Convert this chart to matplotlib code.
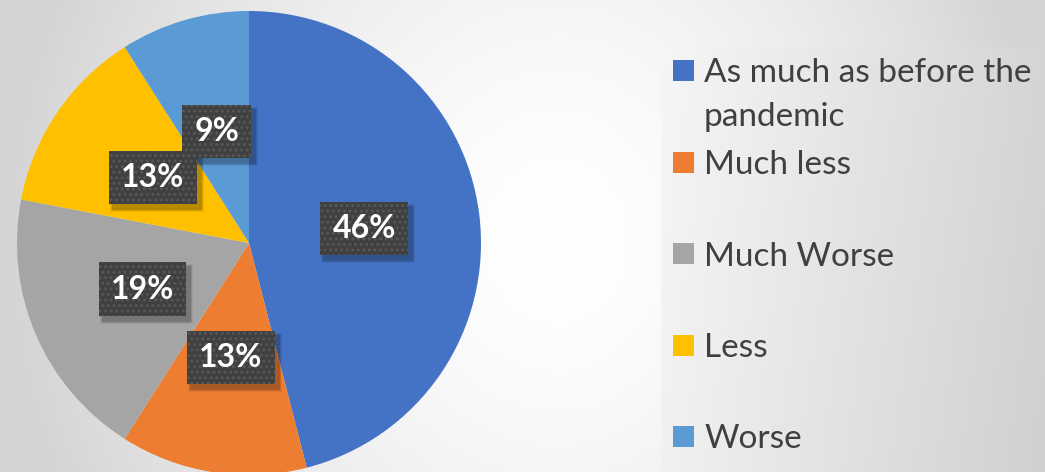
import numpy as np
import matplotlib.pyplot as plt
from matplotlib.patches import Rectangle

plt.rcParams['font.family'] = ['Lato', 'DejaVu Sans']
plt.rcParams['hatch.linewidth'] = 1.3

categories = ['As much as before the\npandemic', 'Much less', 'Much Worse', 'Less', 'Worse']
shares = [46, 13, 19, 13, 9]
colors = ['#4472C4', '#ED7D31', '#A5A5A5', '#FFC000', '#5B9BD5']

W, H = 1045, 472
fig = plt.figure(figsize=(W / 100, H / 100), dpi=100)

# background: soft gradient, white in the middle, grey towards the sides
yy, xx = np.mgrid[0:H, 0:W]
dx = np.where(xx < 560, (560 - xx) / 560, (xx - 560) / 485)
dy = np.abs(yy - 240) / 600
bg = 1 - 0.17 * np.clip(np.hypot(dx, dy), 0, 1) ** 1.6
# legend panel
panel = (xx >= 661) & (yy >= 47)
bg[panel] = 0.965 - 0.13 * (xx[panel] - 661) / 384 - 0.02 * (yy[panel] - 47) / 425
bg_ax = fig.add_axes([0, 0, 1, 1])
bg_ax.imshow(np.dstack([bg] * 3), aspect='auto', extent=(0, W, H, 0))
bg_ax.axis('off')

# pie
cx, cy, r = 249, 243, 232
ax = fig.add_axes([(cx - r) / W, (H - cy - r) / H, 2 * r / W, 2 * r / H])
ax.patch.set_alpha(0)
wedges, texts, autotexts = ax.pie(
    shares, colors=colors, startangle=90, counterclock=False,
    autopct='%1.0f%%', pctdistance=0.5, radius=1,
    wedgeprops=dict(linewidth=0),
    textprops=dict(color='white', fontsize=23, fontweight='bold'))
ax.set_xlim(-1, 1)
ax.set_ylim(-1, 1)
ax.set_aspect('auto')

for t in autotexts:
    t.set_zorder(4)
    t.set_bbox(dict(boxstyle='square,pad=0.38', fc='#404040', ec='#585858',
                    lw=0, hatch='...'))

# soft drop shadow behind each label box
fig.canvas.draw()
for t in autotexts:
    bb = t.get_bbox_patch().get_window_extent()
    for k, a in [(6, 0.06), (4, 0.1), (2, 0.14)]:
        fig.add_artist(Rectangle((bb.x0 + 4 - k / 2, bb.y0 - 5 - k / 2),
                                 bb.width + k, bb.height + k, transform=None,
                                 fc='black', ec='none', alpha=a, zorder=3))
    t.remove()
    fig.add_artist(t)
    t.set_zorder(5)

# legend drawn by hand
leg_x, leg_y0, step, line_h = 673, 70.5, 91.5, 43
for i, (lab, col) in enumerate(zip(categories, colors)):
    yc = leg_y0 + i * step
    fig.add_artist(Rectangle((leg_x / W, (H - yc - 10.5) / H), 21 / W, 21 / H,
                             transform=fig.transFigure, fc=col, ec='none'))
    for j, line in enumerate(lab.split('\n')):
        fig.text(704 / W, (H - yc - 12 - j * line_h) / H, line, fontsize=24,
                 color='#404040', va='baseline', ha='left')

plt.savefig('out.png', dpi=100)
plt.close()
